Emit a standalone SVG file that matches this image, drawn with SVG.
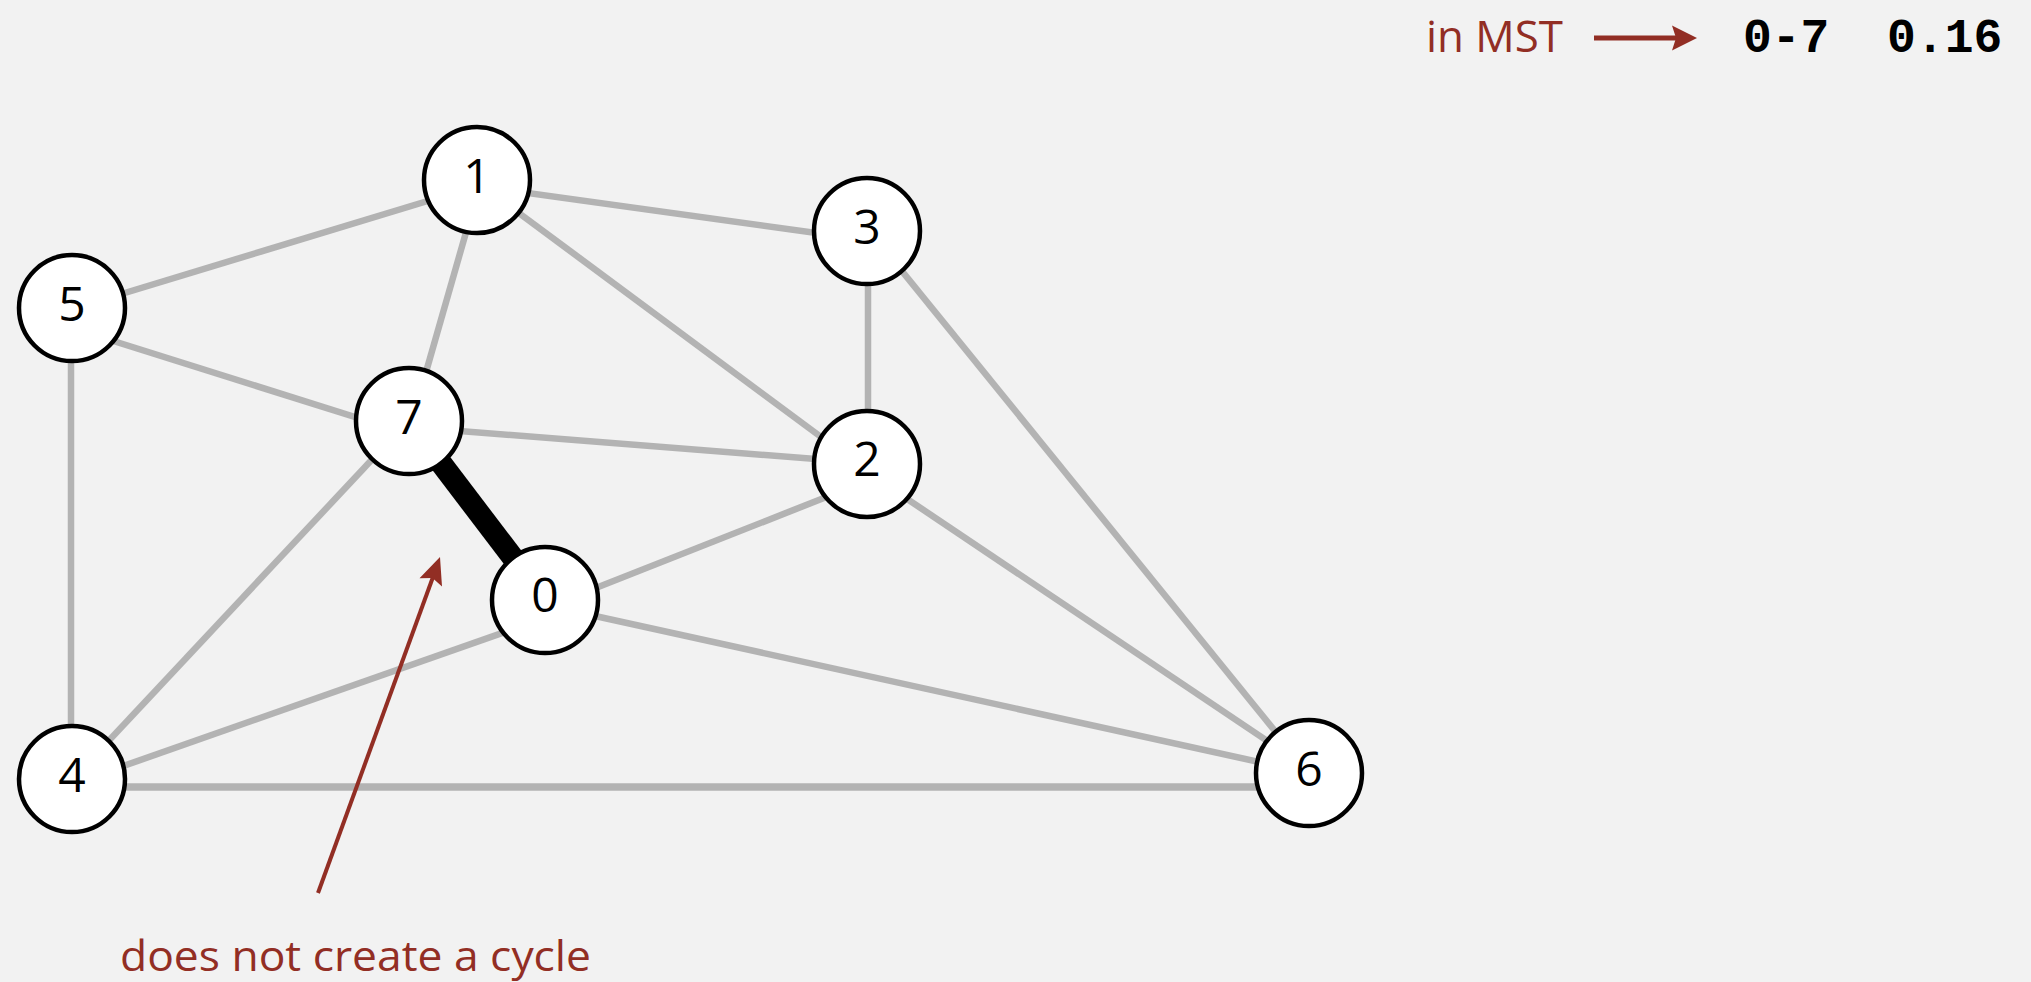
<svg xmlns="http://www.w3.org/2000/svg" width="2031" height="982" viewBox="0 0 2031 982">
<style>
.edge{stroke:#b3b3b3;stroke-width:6.5;stroke-linecap:butt;fill:none}
.mst{stroke:#000;stroke-width:22;stroke-linecap:butt}
.node circle{fill:#fff;stroke:#000;stroke-width:4.5}
.node text{font-family:"Open Sans","Noto Sans",sans-serif;font-size:48px;fill:#000;text-anchor:middle}
.red{fill:#922e24;font-family:"Open Sans","Noto Sans",sans-serif}
</style>
<rect width="2031" height="982" fill="#f2f2f2"/>
<g id="connectors">
<line class="edge" x1="72" y1="309" x2="477" y2="186"/>
<line class="edge" x1="477" y1="186" x2="867" y2="240"/>
<line class="edge" x1="481" y1="180" x2="412" y2="421"/>
<line class="edge" x1="477" y1="182" x2="867" y2="471"/>
<line class="edge" x1="868" y1="231" x2="868" y2="464"/>
<line class="edge" x1="867" y1="228" x2="1309" y2="773"/>
<line class="edge" x1="867" y1="472" x2="1309" y2="769"/>
<line class="edge" x1="409" y1="427" x2="867" y2="463"/>
<line class="edge" x1="545" y1="608" x2="867" y2="481"/>
<line class="edge" x1="545" y1="605" x2="1309" y2="773"/>
<line class="edge" x1="72" y1="784" x2="545" y2="618"/>
<line class="edge" x1="72" y1="780" x2="409" y2="420"/>
<line class="edge" x1="71" y1="308" x2="71" y2="778"/>
<line class="edge" x1="72" y1="328" x2="409" y2="434"/>
<line class="edge" x1="72" y1="787" x2="1309" y2="787" style="stroke-width:7.5"/>
<line class="mst" x1="409" y1="421" x2="545" y2="600"/>
</g>
<g id="node0" class="node"><circle cx="545" cy="600" r="53"/><text x="545" y="612">0</text></g>
<g id="node1" class="node"><circle cx="477" cy="180" r="53"/><text x="477" y="193">1</text></g>
<g id="node2" class="node"><circle cx="867" cy="464" r="53"/><text x="867" y="476">2</text></g>
<g id="node3" class="node"><circle cx="867" cy="231" r="53"/><text x="867" y="244">3</text></g>
<g id="node4" class="node"><circle cx="72" cy="779" r="53"/><text x="72" y="792">4</text></g>
<g id="node5" class="node"><circle cx="72" cy="308" r="53"/><text x="72" y="321">5</text></g>
<g id="node6" class="node"><circle cx="1309" cy="773" r="53"/><text x="1309" y="786">6</text></g>
<g id="node7" class="node"><circle cx="409" cy="421" r="53"/><text x="409" y="434">7</text></g>
<g id="annotation">
<line x1="318" y1="893" x2="433" y2="577" stroke="#922e24" stroke-width="4"/>
<polygon points="440,557 442,586.5 432.5,578 419.5,578.3" fill="#922e24"/>
<text class="red" x="120" y="971" font-size="42" textLength="471" lengthAdjust="spacingAndGlyphs">does not create a cycle</text>
</g>
<g id="legend">
<text class="red" x="1426" y="52" font-size="44" textLength="137" lengthAdjust="spacingAndGlyphs">in MST</text>
<line x1="1594" y1="38" x2="1678" y2="38" stroke="#922e24" stroke-width="5"/>
<polygon points="1697,38 1672,25.5 1676,38 1672,50.5" fill="#922e24"/>
<text x="1743" y="52" font-family="Liberation Mono,monospace" font-weight="bold" font-size="48" fill="#000" xml:space="preserve">0-7  0.16</text>
</g>
</svg>
